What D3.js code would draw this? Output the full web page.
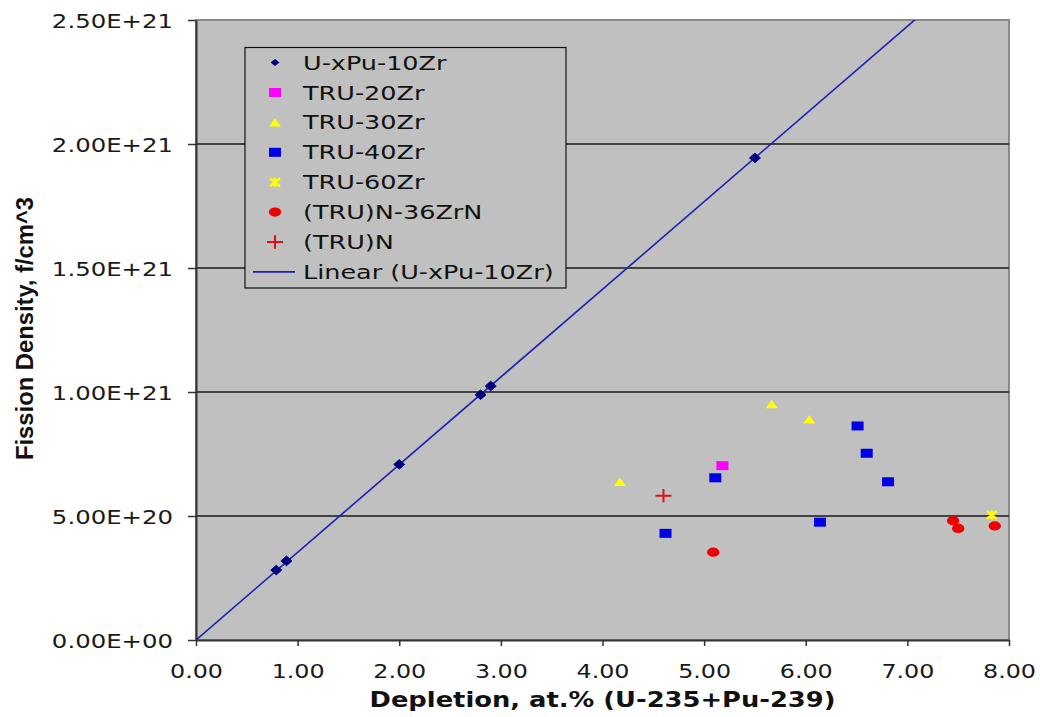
<!DOCTYPE html>
<html><head><meta charset="utf-8">
<script src="https://cdn.jsdelivr.net/npm/d3@7"></script>
<style>body{margin:0;background:#fff;} svg{display:block;}</style>
</head><body>
<svg id="chart" width="1040" height="717"></svg>
<script>
// ---- data ----
const seriesNames = ["U-xPu-10Zr","TRU-20Zr","TRU-30Zr","TRU-40Zr","TRU-60Zr","(TRU)N-36ZrN","(TRU)N"];
const trendName = "Linear (U-xPu-10Zr)";
const uxpuX  = [0.79, 0.89, 2.00, 2.80, 2.90, 5.50];
const uxpuY  = [2.82e20, 3.19e20, 7.08e20, 9.89e20, 1.024e21, 1.944e21];
const tru20X = [5.18];
const tru20Y = [7.03e20];
const tru30X = [4.17, 5.665, 6.035];
const tru30Y = [6.38e20, 9.51e20, 8.90e20];
const tru40X = [4.62, 5.11, 6.14, 6.51, 6.60, 6.81];
const tru40Y = [4.30e20, 6.54e20, 4.75e20, 8.63e20, 7.53e20, 6.38e20];
const tru60X = [7.83];
const tru60Y = [5.04e20];
const nitZrX = [5.09, 7.45, 7.50, 7.86];
const nitZrY = [3.54e20, 4.81e20, 4.50e20, 4.60e20];
const nitX   = [4.60];
const nitY   = [5.82e20];
const xTicks = [0,1,2,3,4,5,6,7,8];
const xTickLabels = ["0.00","1.00","2.00","3.00","4.00","5.00","6.00","7.00","8.00"];
const yTicks = [0, 5e20, 1e21, 1.5e21, 2e21, 2.5e21];
const yTickLabels = ["0.00E+00","5.00E+20","1.00E+21","1.50E+21","2.00E+21","2.50E+21"];
const xTitle = "Depletion, at.% (U-235+Pu-239)";
const yTitle = "Fission Density, f/cm^3";

// ---- layout ----
const L = 196, R = 1009, T = 20, B = 640;
const svg = d3.select("#chart");
const x = d3.scaleLinear().domain([0, 8]).range([L, R]);
const y = d3.scaleLinear().domain([0, 2.5e21]).range([B, T]);

const colors = {
  uxpu: "#000080", tru20: "#ff00ff", tru30: "#ffff00", tru40: "#0000e6",
  tru60: "#ffff00", nitZr: "#ee0000", nit: "#dd1111", trend: "#1f1fb4"
};

// plot area
svg.append("rect").attr("x", L).attr("y", T).attr("width", R - L).attr("height", B - T)
  .attr("fill", "#c0c0c0").attr("stroke", "#8a8a8a").attr("stroke-width", 2);

// gridlines
svg.append("g").selectAll("line").data(yTicks.filter(v => v > 0 && v < 2.5e21)).join("line")
  .attr("x1", L).attr("x2", R).attr("y1", d => y(d)).attr("y2", d => y(d))
  .attr("stroke", "#1a1a1a").attr("stroke-width", 1.5);

// axes
const font = "'DejaVu Sans', Verdana, sans-serif";
const yAxis = svg.append("g").attr("transform", `translate(${L},0)`)
  .call(d3.axisLeft(y).tickValues(yTicks).tickFormat((d, i) => yTickLabels[i]).tickSize(8).tickSizeOuter(0));
const xAxis = svg.append("g").attr("transform", `translate(0,${B})`)
  .call(d3.axisBottom(x).tickValues(xTicks).tickFormat((d, i) => xTickLabels[i]).tickSize(6).tickSizeOuter(0));
[yAxis, xAxis].forEach(g => {
  g.select(".domain").attr("stroke", "#333").attr("stroke-width", 2);
  g.selectAll(".tick line").attr("stroke", "#333").attr("stroke-width", 1.5);
});
yAxis.selectAll(".tick text")
  .attr("x", null).attr("dy", null)
  .attr("transform", "translate(-23,7) scale(1.27,1)")
  .attr("font-family", font).attr("font-size", 19.2).attr("fill", "#1a1a1a").attr("text-anchor", "end");
xAxis.selectAll(".tick text")
  .attr("y", null).attr("dy", null)
  .attr("transform", "translate(0,37.7) scale(1.215,1)")
  .attr("font-family", font).attr("font-size", 19.6).attr("fill", "#1a1a1a").attr("text-anchor", "middle");

// titles
svg.append("text").attr("x", (L + R) / 2).attr("y", 706.5)
  .attr("text-anchor", "middle").attr("font-family", font).attr("font-weight", "bold")
  .attr("font-size", 20.6).attr("fill", "#111")
  .attr("textLength", 466).attr("lengthAdjust", "spacingAndGlyphs").text(xTitle);
svg.append("text").attr("transform", "translate(33,328.5) rotate(-90)")
  .attr("text-anchor", "middle").attr("font-family", "'Liberation Sans', Arial, sans-serif")
  .attr("font-weight", "bold").attr("font-size", 23.5).attr("fill", "#111")
  .attr("textLength", 263).attr("lengthAdjust", "spacingAndGlyphs").text(yTitle);

// clip for plot
svg.append("clipPath").attr("id", "clip").append("rect")
  .attr("x", L).attr("y", T).attr("width", R - L).attr("height", B - T);

// trendline: least squares through origin of U-xPu-10Zr
const slope = d3.sum(uxpuX, (v, i) => v * uxpuY[i]) / d3.sum(uxpuX, v => v * v);
svg.append("line").attr("clip-path", "url(#clip)")
  .attr("x1", x(0)).attr("y1", y(0)).attr("x2", x(8)).attr("y2", y(slope * 8))
  .attr("stroke", colors.trend).attr("stroke-width", 1.6);

// marker drawers
const markers = {
  diamond: (g, c) => g.append("path").attr("d", "M-5.5,0L0,-4.8L5.5,0L0,4.8Z").attr("fill", c).attr("stroke", c).attr("stroke-width", 1),
  square: (g, c) => g.append("rect").attr("x", -6).attr("y", -4.5).attr("width", 12).attr("height", 9).attr("fill", c),
  triangle: (g, c) => g.append("path").attr("d", "M0,-4.3L5.9,4.2L-5.9,4.2Z").attr("fill", c),
  star: (g, c) => g.append("path").attr("d", "M-5,-4L5,4M-5,4L5,-4M0,-4.5V4.5").attr("stroke", c).attr("stroke-width", 2.6).attr("fill", "none"),
  circle: (g, c) => g.append("ellipse").attr("rx", 6.2).attr("ry", 4.6).attr("fill", c),
  plus: (g, c) => g.append("path").attr("d", "M-8,0H8M0,-6.7V6.7").attr("stroke", c).attr("stroke-width", 2).attr("fill", "none")
};

const series = [
  {xs: tru40X, ys: tru40Y, m: "square", c: colors.tru40},
  {xs: tru20X, ys: tru20Y, m: "square", c: colors.tru20},
  {xs: tru30X, ys: tru30Y, m: "triangle", c: colors.tru30},
  {xs: nitZrX, ys: nitZrY, m: "circle", c: colors.nitZr},
  {xs: tru60X, ys: tru60Y, m: "star", c: colors.tru60},
  {xs: nitX, ys: nitY, m: "plus", c: colors.nit},
  {xs: uxpuX, ys: uxpuY, m: "diamond", c: colors.uxpu}
];
series.forEach(s => {
  s.xs.forEach((v, i) => {
    const g = svg.append("g").attr("transform", `translate(${x(v)},${y(s.ys[i])})`);
    markers[s.m](g, s.c);
  });
});

// legend
const legendItems = [
  {name: seriesNames[0], m: "diamond", c: colors.uxpu},
  {name: seriesNames[1], m: "square", c: colors.tru20},
  {name: seriesNames[2], m: "triangle", c: colors.tru30},
  {name: seriesNames[3], m: "square", c: colors.tru40},
  {name: seriesNames[4], m: "star", c: colors.tru60},
  {name: seriesNames[5], m: "circle", c: colors.nitZr},
  {name: seriesNames[6], m: "plus", c: colors.nit},
  {name: trendName, m: "line", c: colors.trend}
];
const lg = svg.append("g");
lg.append("rect").attr("x", 245).attr("y", 47.5).attr("width", 321).attr("height", 240.5)
  .attr("fill", "#c0c0c0").attr("stroke", "#111").attr("stroke-width", 1.2);
legendItems.forEach((it, i) => {
  const cy = 62.6 + i * 29.9;
  const g = lg.append("g").attr("transform", `translate(275,${cy})`);
  if (it.m === "line") {
    g.append("line").attr("x1", -22).attr("x2", 20).attr("stroke", it.c).attr("stroke-width", 1.6);
  } else if (it.m === "diamond") {
    g.append("path").attr("d", "M-4.5,0L0,-3.5L4.5,0L0,3.5Z").attr("fill", it.c);
  } else {
    markers[it.m](g, it.c);
  }
  lg.append("text").attr("transform", `translate(303,${cy + 7}) scale(1.3,1)`)
    .attr("font-family", font).attr("font-size", 19.6).attr("fill", "#111").text(it.name);
});
</script>
</body></html>
